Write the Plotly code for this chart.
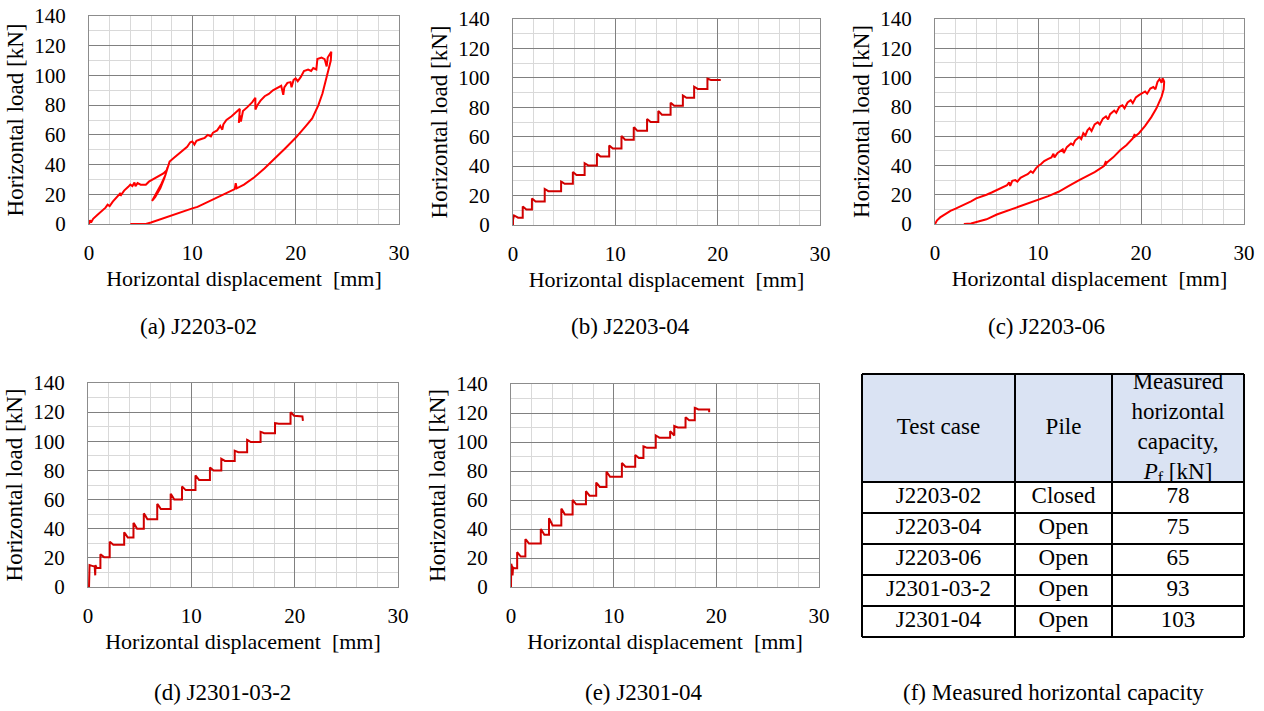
import plotly.graph_objects as go

W, H = 1264, 711
FONT = "Liberation Serif"
RED_A = "#FF0000"
RED_B = "#D00000"

# ---------------- (a) J2203-02 : load / unload path ----------------
a_disp = [0.0, 0.1, 0.2, 0.4, 0.8, 1.2, 1.6, 1.8, 2.0, 2.3, 2.7, 3.0, 3.1, 3.4, 3.8, 4.0, 4.2, 4.4, 4.5,
          4.7, 5.0, 5.5, 5.8, 6.3, 6.8, 7.2, 7.5,
          7.6, 7.4, 7.0, 6.6, 6.2, 6.1, 6.4, 6.9, 7.3, 7.6, 7.8,
          8.2, 8.6, 9.0, 9.5, 9.8, 10.0, 10.2, 10.4, 10.8, 11.2, 11.5, 11.8, 12.0, 12.4, 12.7, 12.9,
          13.0, 13.3, 13.8, 14.2, 14.6,
          14.5, 14.6, 14.7, 14.9, 15.3, 15.8, 16.1,
          16.1, 16.3, 16.6, 17.0, 17.4, 17.8, 18.2, 18.6, 18.8, 18.9, 19.2, 19.5, 19.6, 19.8, 20.0,
          20.2, 20.5, 20.8, 21.2, 21.5, 21.7, 22.0, 22.1, 22.5, 22.8, 23.0, 23.1, 23.3, 23.45,
          23.4, 23.2, 23.0, 22.6, 22.2, 21.6, 21.0, 20.5, 20.0, 19.0, 18.0, 17.0, 16.0, 15.0,
          14.3, 14.2, 14.1, 13.5, 12.5, 11.5, 10.5, 10.0, 9.0, 8.0, 7.0, 6.0, 5.5, 4.0]
a_load = [0.0, 2.5, 1.0, 3.5, 6.0, 8.5, 11.0, 13.0, 12.0, 15.0, 18.0, 20.5, 19.5, 22.5, 25.0, 26.5, 25.5, 28.0, 25.5,
          27.5, 26.5, 26.5, 28.5, 30.5, 32.5, 34.0, 36.0,
          38.0, 33.0, 27.0, 22.0, 17.0, 15.5, 18.0, 24.0, 31.0, 37.0, 42.0,
          44.5, 47.0, 49.0, 52.0, 55.0, 55.5, 53.5, 56.0, 57.0, 58.0, 60.0, 59.0, 61.5, 63.0, 66.0, 63.5,
          67.0, 70.0, 72.5, 75.0, 77.5,
          68.0, 73.0, 69.0, 76.0, 78.5, 82.0, 85.0,
          77.0, 80.0, 83.0, 86.0, 87.5, 90.0, 91.5, 93.0, 87.0, 92.0, 95.0, 95.5, 92.0, 97.0, 98.0,
          96.0, 99.0, 103.0, 104.0, 103.0, 105.0, 104.0, 111.0, 112.0, 111.0, 106.0, 112.0, 114.0, 116.0,
          110.0, 104.0, 99.0, 88.0, 80.0, 71.0, 66.0, 62.0, 58.0, 51.0, 44.0, 37.5, 31.5, 26.5,
          24.0, 27.5, 23.5, 21.5, 18.0, 14.5, 11.5, 10.5, 8.0, 5.5, 3.0, 1.0, 0.0, 0.0]

# ---------------- (b) J2203-04 : staircase ----------------
b_start_disp = [0.0, 0.0, 0.1, 0.3, 0.5]
b_start_load = [0.0, 3.5, 6.5, 5.5, 5.0]
b_step_disp = [0.95, 1.85, 3.1, 4.7, 5.85, 7.0, 8.2, 9.4, 10.6, 11.8, 13.1, 14.2, 15.4, 16.6, 17.7, 19.0]
b_step_peak = [12.5, 18.0, 24.5, 29.5, 36.0, 42.0, 48.5, 54.0, 60.5, 66.5, 72.0, 77.5, 83.0, 88.0, 94.0, 99.5]
b_step_hold = [10.5, 16.0, 23.0, 28.0, 34.0, 40.5, 46.5, 52.0, 58.0, 64.0, 70.0, 75.0, 81.0, 86.5, 92.5, 98.5]
b_end_disp = [20.3]
b_end_load = [98.5]

# ---------------- (c) J2203-06 : load / unload path ----------------
c_disp = [0.0, 0.2, 0.5, 1.0, 1.5, 2.0, 2.5, 3.0, 3.5, 4.0, 4.5, 5.0, 5.5, 6.0, 6.5, 7.0, 7.2, 7.3, 7.5,
          7.8, 8.0, 8.3, 8.7, 9.0, 9.3, 9.5, 9.8, 10.0, 10.3, 10.6, 11.0, 11.3, 11.5, 11.6, 11.9, 12.2,
          12.4, 12.5, 12.8, 13.2, 13.4, 13.6, 14.0, 14.2, 14.4, 14.6, 14.8, 15.0, 15.2, 15.5, 15.8, 16.0,
          16.3, 16.6, 16.8, 17.0, 17.4, 17.6, 17.9, 18.2, 18.4, 18.7, 19.0, 19.2, 19.5, 19.8, 20.1, 20.4,
          20.6, 20.9, 21.2, 21.4, 21.6, 21.8, 22.0, 22.1, 22.2,
          22.25, 22.2, 22.0, 21.5, 21.0, 20.4, 19.8, 19.3, 19.4, 19.2, 18.6, 18.0, 17.3, 16.7, 16.5,
          16.6, 16.4, 15.5, 14.5, 14.0, 13.0, 12.0, 11.0, 10.0, 9.0, 8.0, 7.0, 6.0, 5.0, 4.0, 3.5, 2.8]
c_load = [0.0, 2.5, 4.5, 7.0, 9.0, 10.5, 12.0, 13.5, 15.5, 17.5, 18.5, 20.0, 21.5, 23.0, 24.5, 26.5, 28.5, 26.0, 29.5,
          30.0, 29.0, 31.5, 33.0, 34.0, 36.0, 35.0, 38.0, 39.5, 41.0, 43.0, 44.5, 45.5, 48.0, 45.5, 48.5, 50.0,
          51.0, 48.5, 52.5, 55.0, 54.0, 57.0, 59.5, 58.0, 62.0, 60.5, 64.0, 65.5, 63.5, 68.0, 69.5, 68.0,
          72.0, 73.5, 71.5, 75.0, 77.5, 76.0, 80.0, 81.0, 79.0, 83.0, 84.5, 82.5, 86.5, 88.0, 89.5, 90.5,
          89.0, 92.5, 93.5, 92.0, 97.0, 99.0, 96.5, 99.5, 98.0,
          97.0, 92.0, 87.0, 79.0, 73.0, 67.0, 62.0, 59.0, 61.5, 58.5, 54.0, 50.5, 45.5, 42.0, 40.0,
          43.0, 39.5, 35.5, 32.0, 30.0, 26.0, 22.0, 19.0, 16.5, 14.0, 12.0, 9.5, 6.5, 3.2, 1.0, 0.3, 0.0]

# ---------------- (d) J2301-03-2 : staircase ----------------
d_start_disp = [0.1, 0.1, 0.15, 0.4, 0.65, 0.7, 0.72, 0.85]
d_start_load = [0.0, 9.0, 15.0, 14.5, 14.0, 8.0, 15.0, 13.0]
d_step_disp = [1.2, 2.1, 3.5, 4.4, 5.4, 6.7, 8.0, 9.1, 10.4, 11.8, 12.9, 14.2, 15.4, 16.7, 18.1, 19.6]
d_step_peak = [22.5, 31.0, 37.5, 44.0, 50.5, 57.0, 64.0, 69.0, 76.5, 82.0, 88.0, 93.5, 101.0, 106.5, 112.5, 120.0]
d_step_hold = [20.5, 29.0, 34.0, 40.0, 46.5, 53.5, 60.0, 66.5, 73.5, 80.0, 86.5, 92.5, 99.5, 105.5, 112.0, 117.5]
d_end_disp = [20.75, 20.8]
d_end_load = [117.0, 114.0]

# ---------------- (e) J2301-04 : staircase ----------------
e_start_disp = [0.0, 0.02, 0.1, 0.15, 0.2, 0.3]
e_start_load = [0.0, 16.0, 14.0, 8.0, 13.5, 13.0]
e_step_disp = [0.6, 1.4, 2.9, 3.7, 4.9, 6.0, 7.3, 8.3, 9.3, 10.8, 12.1, 12.9, 14.1, 15.5, 15.9, 17.0, 17.9]
e_step_peak = [24.0, 33.0, 40.0, 47.5, 54.0, 60.0, 66.0, 72.0, 79.5, 85.5, 91.0, 97.0, 104.5, 107.5, 111.0, 117.0, 123.5]
e_step_hold = [21.0, 30.0, 36.0, 42.5, 50.0, 57.0, 63.0, 69.0, 76.0, 83.0, 89.0, 96.0, 103.0, 104.5, 110.0, 115.0, 122.5]
e_end_disp = [19.3, 19.3]
e_end_load = [122.5, 120.5]

# ---------------- (f) table ----------------
tbl_header = ["Test case", "Pile", "Measured<br>horizontal<br>capacity,<br><i>P</i><sub>f</sub> [kN]"]
tbl_case = ["J2203-02", "J2203-04", "J2203-06", "J2301-03-2", "J2301-04"]
tbl_pile = ["Closed", "Open", "Open", "Open", "Open"]
tbl_capacity = [78, 75, 65, 93, 103]

x_ticks = [0, 10, 20, 30]
y_ticks = [0, 20, 40, 60, 80, 100, 120, 140]


def staircase(sx, sy, jx, jp, jh, ex, ey):
    xs, ys = list(sx), list(sy)
    prev = ys[-1]
    for x, p, h in zip(jx, jp, jh):
        xs += [x, x, x + 0.1, x + 0.35]
        ys += [prev, p, p - 0.25 * (p - h), h]
        prev = h
    xs += list(ex)
    ys += list(ey)
    return xs, ys


b_x, b_y = staircase(b_start_disp, b_start_load, b_step_disp, b_step_peak, b_step_hold, b_end_disp, b_end_load)
d_x, d_y = staircase(d_start_disp, d_start_load, d_step_disp, d_step_peak, d_step_hold, d_end_disp, d_end_load)
e_x, e_y = staircase(e_start_disp, e_start_load, e_step_disp, e_step_peak, e_step_hold, e_end_disp, e_end_load)


def px_x(l, r):
    return [l / W, r / W]


def px_y(t, b):
    return [1 - b / H, 1 - t / H]


panels = [
    dict(x=a_disp, y=a_load, color=RED_A, box=(89, 399, 16, 224), cap="(a) J2203-02", cpos=(198, 326)),
    dict(x=b_x, y=b_y, color=RED_B, box=(513, 820, 19, 225), cap="(b) J2203-04", cpos=(630, 326)),
    dict(x=c_disp, y=c_load, color=RED_A, box=(935, 1244, 19, 224), cap="(c) J2203-06", cpos=(1046, 326)),
    dict(x=d_x, y=d_y, color=RED_B, box=(88, 398, 383, 587), cap="(d) J2301-03-2", cpos=(222, 692)),
    dict(x=e_x, y=e_y, color=RED_B, box=(511, 819, 384, 587), cap="(e) J2301-04", cpos=(643, 692)),
]

fig = go.Figure()
layout = dict(
    width=W, height=H, margin=dict(l=0, r=0, t=0, b=0),
    paper_bgcolor="white", plot_bgcolor="white", showlegend=False,
    font=dict(family=FONT, color="black"),
)
annotations = []

for i, p in enumerate(panels, start=1):
    xa = "x" if i == 1 else f"x{i}"
    ya = "y" if i == 1 else f"y{i}"
    fig.add_trace(go.Scatter(x=p["x"], y=p["y"], mode="lines", line=dict(color=p["color"], width=2),
                             xaxis=xa, yaxis=ya, hoverinfo="skip"))
    l, r, t, b = p["box"]
    axis_common = dict(
        showgrid=True, gridcolor="#808080", gridwidth=1, zeroline=False,
        showline=True, linecolor="#8C8C8C", linewidth=1, mirror=True,
        ticks="outside", tickcolor="rgba(0,0,0,0)", automargin=False,
        tickfont=dict(family=FONT, size=21, color="black"), fixedrange=True,
    )
    layout["xaxis" if i == 1 else f"xaxis{i}"] = dict(
        axis_common, domain=px_x(l, r), range=[0, 30], tickvals=x_ticks, ticklen=10,
        minor=dict(dtick=2, showgrid=True, gridcolor="#D9D9D9", gridwidth=1),
        anchor=ya,
        title=dict(text="Horizontal displacement&nbsp; [mm]", font=dict(family=FONT, size=22, color="black"),
                   standoff=6),
    )
    layout["yaxis" if i == 1 else f"yaxis{i}"] = dict(
        axis_common, domain=px_y(t, b), range=[0, 140], tickvals=y_ticks, ticklen=18,
        minor=dict(dtick=10, showgrid=True, gridcolor="#D9D9D9", gridwidth=1),
        anchor=xa,
        title=dict(text="Horizontal load [kN]", font=dict(family=FONT, size=23, color="black"), standoff=4),
    )
    annotations.append(dict(text=p["cap"], x=p["cpos"][0] / W, y=1 - p["cpos"][1] / H, xref="paper",
                            yref="paper", showarrow=False, font=dict(family=FONT, size=23, color="black"),
                            xanchor="center", yanchor="middle"))

# ---------------- table drawn on a hidden axis pair ----------------
col_w = [153, 97, 132]
head_h = 108
row_h = 31
col_edges = [0]
for w in col_w:
    col_edges.append(col_edges[-1] + w)
row_edges = [0, head_h]
for _ in tbl_case:
    row_edges.append(row_edges[-1] + row_h)
TW, TH = col_edges[-1], row_edges[-1]
pad = 4
tl, tt = 862, 374
layout["xaxis6"] = dict(domain=px_x(tl - pad, tl + TW + pad), range=[-pad, TW + pad], visible=False,
                        anchor="y6", fixedrange=True)
layout["yaxis6"] = dict(domain=px_y(tt - pad, tt + TH + pad), range=[TH + pad, -pad], visible=False,
                        anchor="x6", fixedrange=True)

fig.add_trace(go.Scatter(x=[0, TW, TW, 0, 0], y=[0, 0, head_h, head_h, 0], fill="toself",
                         fillcolor="#DAE3F3", line=dict(width=0), mode="lines",
                         xaxis="x6", yaxis="y6", hoverinfo="skip"))
bx, by = [], []
for r in row_edges:
    bx += [0, TW, None]
    by += [r, r, None]
for c in col_edges:
    bx += [c, c, None]
    by += [0, TH, None]
fig.add_trace(go.Scatter(x=bx, y=by, mode="lines", line=dict(color="black", width=2),
                         xaxis="x6", yaxis="y6", hoverinfo="skip"))

col_mid = [(col_edges[k] + col_edges[k + 1]) / 2 for k in range(3)]
txt_x, txt_y, txt = [], [], []
for k in range(3):
    txt_x.append(col_mid[k]); txt_y.append(head_h / 2); txt.append(tbl_header[k])
for j, (cs, pl, cap) in enumerate(zip(tbl_case, tbl_pile, tbl_capacity)):
    yc = head_h + row_h * j + row_h / 2
    for k, v in enumerate([cs, pl, str(cap)]):
        txt_x.append(col_mid[k]); txt_y.append(yc); txt.append(v)
fig.add_trace(go.Scatter(x=txt_x, y=txt_y, text=txt, mode="text", textposition="middle center",
                         textfont=dict(family=FONT, size=23, color="black"), cliponaxis=False,
                         xaxis="x6", yaxis="y6", hoverinfo="skip"))

annotations.append(dict(text="(f) Measured horizontal capacity", x=1053 / W, y=1 - 692 / H, xref="paper",
                        yref="paper", showarrow=False, font=dict(family=FONT, size=23, color="black"),
                        xanchor="center", yanchor="middle"))

layout["annotations"] = annotations
fig.update_layout(**layout)
fig.write_html("out.html", config={"displayModeBar": False})
